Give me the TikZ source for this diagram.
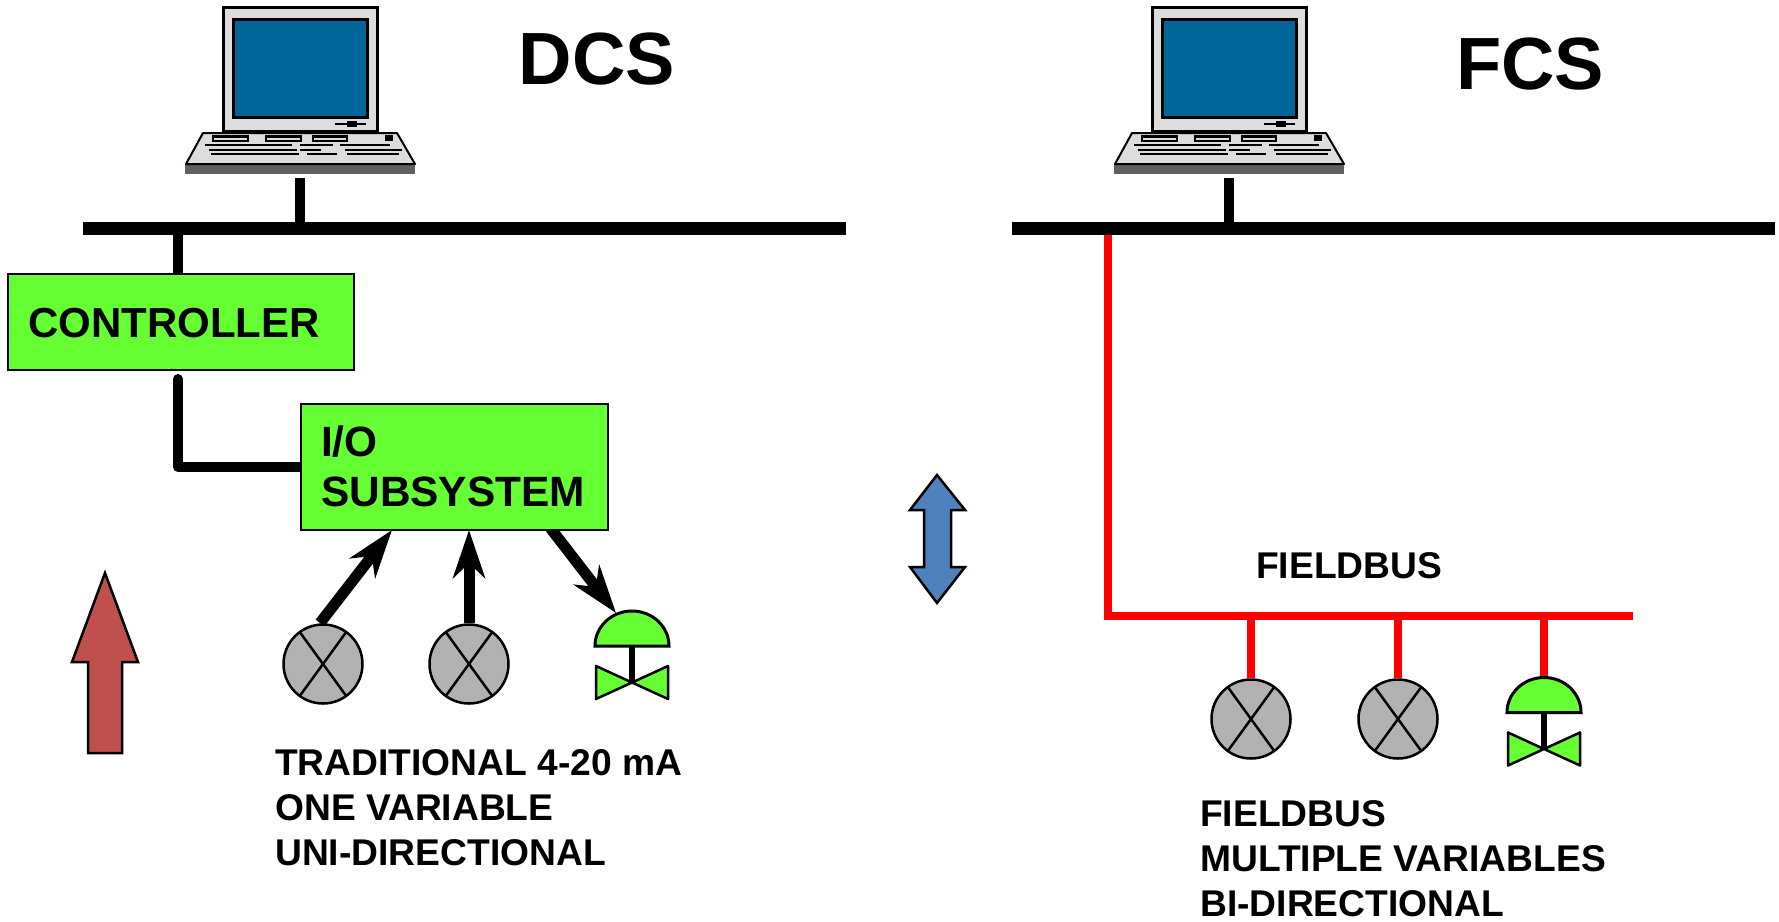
\documentclass[tikz,border=0pt]{standalone}
\usepackage{fontspec}
\setmainfont{Liberation Sans}
\usetikzlibrary{arrows.meta,backgrounds}
\definecolor{boxgreen}{HTML}{66FF33}
\definecolor{screenblue}{HTML}{006699}
\definecolor{basegrey}{HTML}{635E63}
\definecolor{bodygrey}{HTML}{DDDDDD}
\definecolor{sensorgrey}{HTML}{B2B2B2}
\definecolor{uparrow}{HTML}{C0504D}
\definecolor{bothways}{HTML}{4F81BD}
\definecolor{busred}{HTML}{FF0000}
\tikzset{
  box/.style={draw, line width=1.5pt, fill=boxgreen, inner sep=0pt},
  label/.style={font=\bfseries\fontsize{37.2}{45}\selectfont, align=left, anchor=north west, inner sep=0pt},
  title/.style={font=\bfseries\fontsize{74}{74}\selectfont, inner sep=0pt},
  bus/.style={line width=12.5pt},
  stem/.style={line width=10pt},
  wire/.style={line width=10pt, line join=round, line cap=round},
  feed/.style={line width=11pt, -{Stealth[length=48pt, width=32pt, inset=15pt]}},
  fieldwire/.style={busred, line width=7.5pt},
  sensor/.style={circle, draw, line width=2.5pt, fill=sensorgrey, minimum size=79pt, inner sep=0pt,
    path picture={
      \draw [line width=2.5pt] (path picture bounding box.center) ++(-24pt,33pt) -- ++(48pt,-66pt);
      \draw [line width=2.5pt] (path picture bounding box.center) ++(24pt,33pt) -- ++(-48pt,-66pt);
    }},
  pics/laptop/.style={code={
    \draw [line width=3pt, fill=bodygrey] (223,7) rectangle (377,131);
    \draw [line width=3pt, fill=screenblue] (233,19) rectangle (367,117);
    \draw [line width=1.5pt] (335,124) -- (366,124);
    \fill (347,121) rectangle (357,127);
    \fill [basegrey] (185,164) rectangle (415,174);
    \draw [line width=2pt, fill=bodygrey, line join=round] (203,133) -- (397,133) -- (415,164) -- (186,164) -- cycle;
    \foreach \xa/\xb in {212/249,265/302,312/348} {
      \fill (\xa,135) rectangle (\xb,142);
      \fill [bodygrey] (\xa+2,138) rectangle (\xb-2,139.5);
    }
    \fill (385,135) rectangle (393,141);
    \foreach \xa/\xb/\y in {205/292/145,300/333/145,340/390/145,209/297/150,300/321/150,345/402/150,211/299/154,307/337/154,347/399/154}
      \draw [line width=2.7pt] (\xa,\y) -- (\xb,\y);
  }},
  pics/valve/.style={code={
    \draw [line width=3pt, fill=boxgreen] (-37,70) arc [start angle=180, end angle=360, x radius=37, y radius=35] -- cycle;
    \draw [line width=2.5pt, fill=boxgreen, line join=round] (-36,90) -- (36,123) -- (36,90) -- (-36,123) -- cycle;
    \draw [line width=6pt] (0,70) -- (0,107);
  }}
}
\begin{document}
\begin{tikzpicture}[x=1pt, y=-1pt]
  \useasboundingbox (0,0) rectangle (1779,921);

  \pic at (0,0) {laptop};
  \pic at (929,0) {laptop};

  \node [title] (dcs) at (597,59) {DCS};
  \node [title] (fcs) at (1530,64) {FCS};

  % left side
  \node [box, minimum width=346pt, minimum height=96pt] (controller) at (181,322) {};
  \node [box, minimum width=307pt, minimum height=126pt] (io) at (454.5,467) {};
  \node [label, font=\bfseries\fontsize{42}{48}\selectfont] (controllertext) at (28,308) {CONTROLLER};
  \node [label, font=\bfseries\fontsize{42.4}{50}\selectfont] (iotext) at (321,426) {I/O\\SUBSYSTEM};

  \coordinate (busleftw) at (83,228.5);
  \coordinate (buslefte) at (846,228.5);
  \coordinate (laptopleft) at (300,178);
  \coordinate (stemleft) at (300,228);
  \coordinate (stemctrl) at (178,228);
  \draw [bus] (busleftw) -- (buslefte);
  \draw [stem] (laptopleft) -- (stemleft);
  \draw [stem] (stemctrl) -- (stemctrl |- controller.north);

  \node [sensor] (sensora) at (323,664) {};
  \node [sensor] (sensorb) at (469,664) {};
  \pic at (632,576) {valve};
  \coordinate (valvetop) at (616,613);
  \coordinate (sensoratop) at (320,623);
  \coordinate (ioa) at (392,530);
  \coordinate (iob) at (469,530);
  \coordinate (ioc) at (548,525);
  \coordinate (wirestart) at (178,379);
  \begin{scope}[on background layer]
    \draw [wire] (wirestart) -- (178,467) -- (io.west);
    \draw [feed] (ioc) -- (valvetop);
  \end{scope}
  \draw [feed] (sensoratop) -- (ioa);
  \draw [feed] (sensorb.north) -- (iob);

  \node [label] (lefttext) at (275,749) {TRADITIONAL 4-20 mA\\ONE VARIABLE\\UNI-DIRECTIONAL};

  \draw [line width=2.5pt, fill=uparrow] (105,573) -- (138,662) -- (122,662) -- (122,753) -- (88,753) -- (88,662) -- (72,662) -- cycle;
  \draw [line width=2.5pt, fill=bothways] (937,475) -- (965,510) -- (951,510) -- (951,567) -- (965,567) -- (937,603) -- (910,567) -- (924,567) -- (924,510) -- (910,510) -- cycle;

  % right side
  \coordinate (redtop) at (1108,228);
  \coordinate (redcorner) at (1108,616);
  \coordinate (redend) at (1633,616);
  \draw [fieldwire, line join=miter] (redtop) -- (redcorner) -- (redend);

  \coordinate (busrightw) at (1012,228.5);
  \coordinate (busrighte) at (1775,228.5);
  \coordinate (laptopright) at (1229,178);
  \coordinate (stemright) at (1229,228);
  \draw [bus] (busrightw) -- (busrighte);
  \draw [stem] (laptopright) -- (stemright);

  \coordinate (dropa) at (1251,616);
  \coordinate (dropb) at (1398,616);
  \coordinate (dropc) at (1544,616);
  \coordinate (valvedome) at (1544,678);
  \node [sensor] (sensorc) at (1251,719) {};
  \node [sensor] (sensord) at (1398,719) {};
  \draw [fieldwire] (dropa) -- (sensorc.north);
  \draw [fieldwire] (dropb) -- (sensord.north);
  \draw [fieldwire] (dropc) -- (valvedome);
  \pic at (1544,642.5) {valve};

  \node [label] (fieldbus) at (1256,552) {FIELDBUS};
  \node [label] (righttext) at (1200,800.5) {FIELDBUS\\MULTIPLE VARIABLES\\BI-DIRECTIONAL};
\end{tikzpicture}
\end{document}
